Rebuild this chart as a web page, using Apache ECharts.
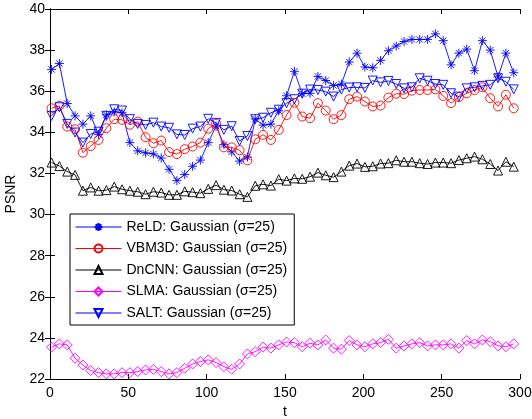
<!DOCTYPE html>
<html>
<head>
<meta charset="utf-8">
<script src="https://cdn.jsdelivr.net/npm/echarts@6/dist/echarts.min.js"></script>
<style>
  html, body { margin: 0; padding: 0; background: #fff; }
  #main { width: 532px; height: 419px; }
</style>
</head>
<body>
<div id="main"></div>
<script>
// frame index of each plotted point
const frames = [1, 6, 11, 16, 21, 26, 31, 36, 41, 46, 51, 56, 61, 66, 71, 76, 81, 86, 91, 96,
  101, 106, 111, 116, 121, 126, 131, 136, 141, 146, 151, 156, 161, 166, 171, 176, 181, 186, 191, 196,
  201, 206, 211, 216, 221, 226, 231, 236, 241, 246, 251, 256, 261, 266, 271, 276, 281, 286, 291, 296]

const reld = [37.06, 37.35, 35.4, 34.8, 34.4, 34.8, 33.9, 34.85, 35.0, 34.95, 33.5, 33.1, 33.0, 32.95, 32.75, 32.2, 31.65, 31.95, 32.35, 32.65,
  33.5, 34.3, 33.4, 33.05, 32.6, 32.8, 34.65, 34.35, 34.4, 35.05, 35.78, 36.97, 35.88, 35.9, 36.72, 36.52, 36.28, 36.35, 37.42, 37.85,
  37.18, 37.14, 37.5, 37.97, 38.2, 38.42, 38.52, 38.52, 38.52, 38.79, 38.46, 37.28, 37.85, 38.05, 37.0, 38.46, 38.0, 36.7, 37.85, 36.9]

const vbm3d = [35.17, 35.29, 34.28, 34.15, 33.01, 33.33, 33.63, 34.2, 34.64, 34.61, 34.37, 34.52, 33.76, 33.47, 33.6, 33.04, 32.94, 33.18, 33.31, 33.5,
  34.18, 34.42, 33.27, 33.27, 33.13, 32.64, 33.66, 33.88, 33.63, 34.12, 34.84, 35.44, 34.77, 34.69, 35.42, 35.06, 34.64, 34.84, 35.61, 35.74,
  35.5, 35.26, 35.3, 35.69, 35.88, 35.86, 36.03, 36.06, 36.06, 36.09, 35.77, 35.42, 35.71, 35.9, 36.06, 36.19, 35.66, 35.26, 35.83, 35.17]

const dncnn = [32.53, 32.36, 32.09, 31.93, 31.16, 31.32, 31.16, 31.19, 31.36, 31.23, 31.16, 31.11, 30.99, 31.11, 31.07, 30.96, 30.96, 31.13, 31.09, 31.04,
  31.25, 31.43, 31.21, 31.17, 30.99, 30.86, 31.4, 31.47, 31.41, 31.72, 31.65, 31.76, 31.74, 31.84, 32.04, 31.91, 31.82, 32.09, 32.38, 32.48,
  32.32, 32.35, 32.48, 32.5, 32.64, 32.57, 32.57, 32.5, 32.46, 32.53, 32.53, 32.5, 32.65, 32.74, 32.82, 32.69, 32.46, 32.14, 32.57, 32.33]

const slma = [23.55, 23.71, 23.66, 23.01, 22.68, 22.41, 22.31, 22.25, 22.25, 22.31, 22.31, 22.36, 22.44, 22.47, 22.36, 22.25, 22.31, 22.52, 22.73, 22.85,
  22.93, 22.8, 22.6, 22.47, 22.73, 23.22, 23.33, 23.55, 23.5, 23.66, 23.8, 23.77, 23.57, 23.74, 23.66, 23.9, 23.5, 23.45, 23.87, 23.66,
  23.57, 23.71, 23.77, 23.93, 23.5, 23.61, 23.71, 23.77, 23.61, 23.66, 23.66, 23.71, 23.5, 23.87, 23.71, 23.9, 23.82, 23.61, 23.57, 23.71]

const salt = [34.8, 35.22, 34.41, 33.99, 33.5, 33.92, 34.03, 34.8, 35.12, 35.06, 34.64, 34.41, 34.36, 34.47, 34.28, 34.22, 33.9, 33.87, 34.18, 34.28,
  34.66, 34.46, 34.12, 34.3, 33.58, 33.82, 34.64, 34.71, 34.95, 35.1, 35.42, 35.61, 35.88, 36.08, 36.06, 35.98, 35.74, 36.08, 36.18, 36.19,
  36.16, 36.52, 36.43, 36.5, 36.35, 36.14, 36.19, 36.63, 36.51, 36.35, 36.31, 35.9, 35.74, 36.14, 36.19, 36.26, 36.31, 36.63, 36.46, 36.09]

const xTicks = [0, 50, 100, 150, 200, 250, 300]
const yTicks = [22, 24, 26, 28, 30, 32, 34, 36, 38, 40]

const FONT = 'Liberation Sans, Arial, Helvetica, sans-serif'
const ASTERISK = 'path://M0,-5L0,5M-5,0L5,0M-3.5,-3.5L3.5,3.5M-3.5,3.5L3.5,-3.5'
const TRI_UP = 'path://M0,-5L5,4L-5,4Z'
const TRI_DOWN = 'path://M-5,-4L5,-4L0,5Z'
const DIAMOND = 'path://M0,-5L5,0L0,5L-5,0Z'

function pairs(vals) {
  return vals.map((v, i) => [frames[i], v])
}

function makeSeries(name, vals, color, symbol, size) {
  return {
    name: name,
    type: 'line',
    data: pairs(vals),
    symbol: symbol,
    symbolSize: size,
    showAllSymbol: true,
    animation: false,
    lineStyle: { color: color, width: 0.9 },
    itemStyle: { color: 'rgba(0,0,0,0)', borderColor: color, borderWidth: 0.9 }
  }
}

const axisCommon = {
  type: 'value',
  axisLine: { show: true, lineStyle: { color: '#000', width: 1 } },
  axisTick: { show: true, inside: true, length: 5, lineStyle: { color: '#000' } },
  splitLine: { show: false }
}

const chart = echarts.init(document.getElementById('main'))
chart.setOption({
  backgroundColor: '#fff',
  animation: false,
  grid: { left: 50, right: 12, top: 9, bottom: 40, containLabel: false, outerBoundsMode: 'none' },
  legend: {
    orient: 'vertical',
    left: 70,
    top: 214,
    padding: [6, 7, 5, 5],
    itemWidth: 46,
    itemHeight: 10,
    itemGap: 7.5,
    borderColor: '#000',
    borderWidth: 1,
    backgroundColor: '#fff',
    lineStyle: { width: 1 },
    textStyle: { fontFamily: FONT, fontSize: 14, color: '#000' },
    data: ['ReLD: Gaussian (σ=25)', 'VBM3D: Gaussian (σ=25)', 'DnCNN: Gaussian (σ=25)', 'SLMA: Gaussian (σ=25)', 'SALT: Gaussian (σ=25)']
  },
  xAxis: [
    Object.assign({}, axisCommon, {
      min: xTicks[0], max: xTicks[xTicks.length - 1], interval: 50,
      name: 't', nameLocation: 'middle', nameGap: 24,
      nameTextStyle: { fontFamily: FONT, fontSize: 14, color: '#000' },
      axisLabel: { fontFamily: FONT, fontSize: 14, color: '#000', margin: 7 }
    }),
    Object.assign({}, axisCommon, {
      position: 'top', min: xTicks[0], max: xTicks[xTicks.length - 1], interval: 50,
      axisLabel: { show: false }
    })
  ],
  yAxis: [
    Object.assign({}, axisCommon, {
      min: yTicks[0], max: yTicks[yTicks.length - 1], interval: 2,
      name: 'PSNR', nameLocation: 'middle', nameGap: 24,
      nameTextStyle: { fontFamily: FONT, fontSize: 14, color: '#000' },
      axisLabel: { fontFamily: FONT, fontSize: 14, color: '#000', margin: 5 }
    }),
    Object.assign({}, axisCommon, {
      position: 'right', min: yTicks[0], max: yTicks[yTicks.length - 1], interval: 2,
      axisLabel: { show: false }
    })
  ],
  series: [
    makeSeries('ReLD: Gaussian (σ=25)', reld, '#0000ff', ASTERISK, 9),
    makeSeries('VBM3D: Gaussian (σ=25)', vbm3d, '#ff0000', 'circle', 9),
    makeSeries('DnCNN: Gaussian (σ=25)', dncnn, '#000000', TRI_UP, 9),
    makeSeries('SLMA: Gaussian (σ=25)', slma, '#ff00ff', DIAMOND, 10),
    makeSeries('SALT: Gaussian (σ=25)', salt, '#0000ff', TRI_DOWN, 9)
  ]
})
</script>
</body>
</html>
